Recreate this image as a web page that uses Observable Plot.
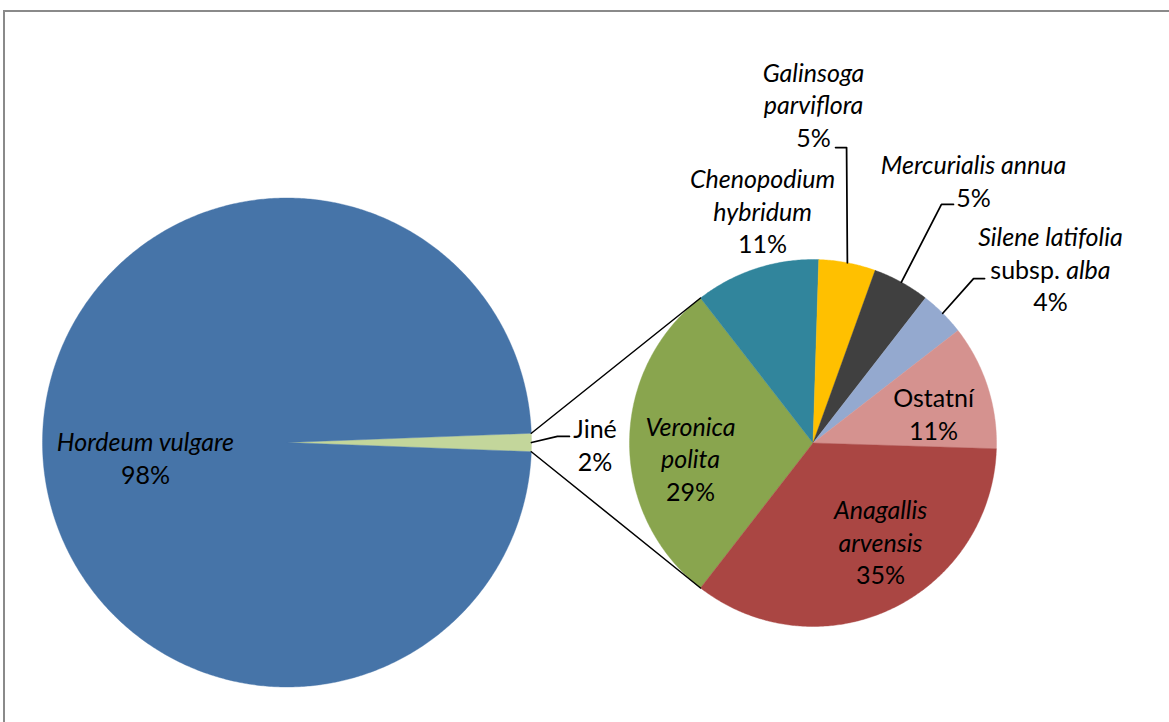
<!DOCTYPE html>
<html><head><meta charset="utf-8">
<script src="https://cdn.jsdelivr.net/npm/d3@7"></script>
<script src="https://cdn.jsdelivr.net/npm/@observablehq/plot@0.6"></script>
<style>
body{margin:0;background:#fff;}
#wrap{position:relative;width:1169px;height:722px;overflow:hidden;background:#fff;}
#chart{position:absolute;left:0;top:0;}
#frame{position:absolute;left:3px;top:10px;width:1300px;height:900px;border:2px solid #8a8a8a;box-sizing:border-box;pointer-events:none;}
</style></head><body>
<div id="wrap"><div id="chart"></div><div id="frame"></div></div>
<script>
// ---- data ----
const mainCategories = ["Jiné", "Hordeum vulgare"];
const mainValues = [1.2, 98.8];
const mainPercentLabels = ["2%", "98%"];
const subCategories = ["Veronica polita", "Chenopodium hybridum", "Galinsoga parviflora", "Mercurialis annua", "Silene latifolia subsp. alba", "Ostatní", "Anagallis arvensis"];
const subValues = [29, 11, 5, 5, 4, 11, 35];
const subPercentLabels = ["29%", "11%", "5%", "5%", "4%", "11%", "35%"];

// ---- styles / layout ----
const mainColors = ["#C3D69B", "#4674A8"];
const subColors = ["#89A54E", "#31859C", "#FFC000", "#404040", "#94A9CF", "#D5928F", "#AA4643"];
const W = 1169, H = 722;
const main = {cx: 286.5, cy: 442, r: 244.5};
const sub = {cx: 812.5, cy: 442.5, r: 183.5};
const LH = 32.5;
const FS = 25;

const labelLineDefs = new Map([
  ["Hordeum vulgare", [["Hordeum vulgare", "italic"]]],
  ["Jiné", [["Jiné", "normal"]]],
  ["Veronica polita", [["Veronica", "italic"], ["polita", "italic"]]],
  ["Chenopodium hybridum", [["Chenopodium", "italic"], ["hybridum", "italic"]]],
  ["Galinsoga parviflora", [["Galinsoga", "italic"], ["parviflora", "italic"]]],
  ["Mercurialis annua", [["Mercurialis annua", "italic"]]],
  ["Silene latifolia subsp. alba", [["Silene latifolia", "italic"], ["subsp. alba", "mixed"]]],
  ["Ostatní", [["Ostatní", "normal"]]],
  ["Anagallis arvensis", [["Anagallis", "italic"], ["arvensis", "italic"]]]
]);
// label block centres, in units of the pie radius relative to the pie centre
const labelAnchors = new Map([
  ["Hordeum vulgare", [-0.579, 0.070]],
  ["Jiné", [1.260, 0.016]],
  ["Veronica polita", [-0.668, 0.095]],
  ["Chenopodium hybridum", [-0.275, -1.256]],
  ["Galinsoga parviflora", [0.003, -1.834]],
  ["Mercurialis annua", [0.875, -1.420]],
  ["Silene latifolia subsp. alba", [1.294, -0.940]],
  ["Ostatní", [0.657, -0.150]],
  ["Anagallis arvensis", [0.368, 0.548]]
]);
// leader lines: elbow (radius units) and horizontal run (px)
const leaderDefs = new Map([
  ["Jiné", {elbow: [1.106, -0.025], run: 12}],
  ["Galinsoga parviflora", {elbow: [0.183, -1.610], run: -11}],
  ["Mercurialis annua", {elbow: [0.700, -1.300], run: 12}],
  ["Silene latifolia subsp. alba", {elbow: [0.875, -0.896], run: 11}]
]);

// ---- geometry ----
function arcsOf(values, start) {
  return d3.pie().sort(null).value(d => d).startAngle(start).endAngle(start + 2 * Math.PI)(values);
}
const tau = 2 * Math.PI;
const jineAngle = mainValues[0] / d3.sum(mainValues) * tau;
const mainArcs = arcsOf(mainValues, Math.PI / 2 - jineAngle / 2);
const verAngle = subValues[0] / d3.sum(subValues) * tau;
const subArcs = arcsOf(subValues, 3 * Math.PI / 2 - verAngle / 2);

const polar = (p, a, k = 1) => ({x: p.cx + p.r * k * Math.sin(a), y: p.cy - p.r * k * Math.cos(a)});

function slicePoints(arcs, cats, p) {
  const pts = [];
  arcs.forEach((a, i) => {
    const name = cats[i];
    pts.push({name, x: p.cx, y: p.cy});
    const n = Math.max(2, Math.ceil((a.endAngle - a.startAngle) / (Math.PI / 360)));
    for (let j = 0; j <= n; j++) {
      const t = a.startAngle + (a.endAngle - a.startAngle) * j / n;
      pts.push({name, ...polar(p, t)});
    }
    pts.push({name, x: p.cx, y: p.cy});
  });
  return pts;
}
const slices = [...slicePoints(mainArcs, mainCategories, main), ...slicePoints(subArcs, subCategories, sub)];

function labelRows(cats, pcts, p) {
  const rows = [];
  cats.forEach((c, i) => {
    const lines = labelLineDefs.get(c).concat([[pcts[i], "normal"]]);
    const [ux, uy] = labelAnchors.get(c);
    const n = lines.length;
    lines.forEach(([text, style], j) => {
      rows.push({text, style, x: p.cx + ux * p.r, y: p.cy + uy * p.r + (j - (n - 1) / 2) * LH});
    });
  });
  return rows;
}
const labels = [...labelRows(mainCategories, mainPercentLabels, main), ...labelRows(subCategories, subPercentLabels, sub)];

function leaderRows(cats, arcs, p) {
  const rows = [];
  cats.forEach((c, i) => {
    const d = leaderDefs.get(c);
    if (!d) return;
    const ex = p.cx + d.elbow[0] * p.r, ey = p.cy + d.elbow[1] * p.r;
    const mid = (arcs[i].startAngle + arcs[i].endAngle) / 2;
    rows.push({name: c, x: ex + d.run, y: ey});
    rows.push({name: c, x: ex, y: ey});
    rows.push({name: c, ...polar(p, mid)});
  });
  return rows;
}
const leaders = [...leaderRows(mainCategories, mainArcs, main), ...leaderRows(subCategories, subArcs, sub)];

const connectors = [
  {name: "top", ...polar(main, mainArcs[0].startAngle)},
  {name: "top", ...polar(sub, subArcs[0].endAngle)},
  {name: "bottom", ...polar(main, mainArcs[0].endAngle)},
  {name: "bottom", ...polar(sub, subArcs[0].startAngle)}
];

const chart = Plot.plot({
  width: W, height: H, margin: 0,
  style: {fontFamily: "Lato, sans-serif", background: "transparent"},
  x: {domain: [0, W], range: [0, W], axis: null},
  y: {domain: [0, H], range: [0, H], axis: null},
  color: {domain: [...mainCategories, ...subCategories], range: [...mainColors, ...subColors]},
  marks: [
    Plot.line(slices, {x: "x", y: "y", z: "name", fill: "name", stroke: "name", strokeWidth: 0.4, curve: "linear"}),
    Plot.line(connectors, {x: "x", y: "y", z: "name", stroke: "black", strokeWidth: 1.5}),
    Plot.line(leaders, {x: "x", y: "y", z: "name", stroke: "black", strokeWidth: 1.75}),
    Plot.text(labels.filter(d => d.style === "italic"), {x: "x", y: "y", text: "text", fontSize: FS, fontStyle: "italic", fill: "black"}),
    Plot.text(labels.filter(d => d.style !== "italic"), {x: "x", y: "y", text: "text", fontSize: FS, fill: "black"})
  ]
});
d3.select(chart).selectAll("text").filter(function () { return this.textContent === "subsp. alba"; }).each(function () {
  const t = d3.select(this);
  t.text("");
  t.append("tspan").text("subsp.\u00a0");
  t.append("tspan").attr("font-style", "italic").text("alba");
});
document.getElementById("chart").appendChild(chart);
</script>
</body></html>
